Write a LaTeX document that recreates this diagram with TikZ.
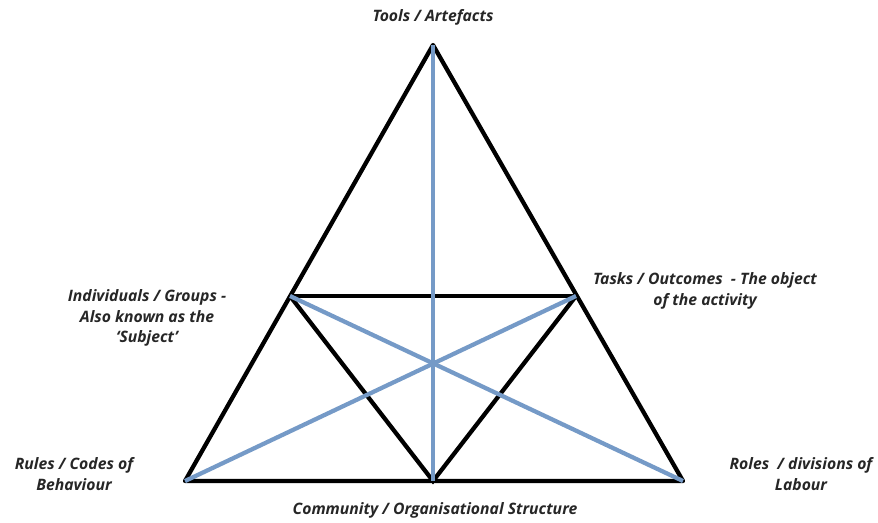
\documentclass[tikz,border=0pt]{standalone}
\usepackage{fontspec}
\setmainfont{Open Sans}
\definecolor{lienbleu}{RGB}{117,154,199}
\tikzset{
    trait/.style={line width=3.2pt, black},
    lien/.style={line width=3.2pt, lienbleu},
    etiquette/.style={font=\bfseries\itshape\fontsize{11.8}{15.5}\selectfont, align=center, inner sep=0pt, text=black!85}
}
\begin{document}
\begin{tikzpicture}[x=0.75pt,y=-0.75pt]

\useasboundingbox (0,0) rectangle (878,522);

% Sommets
\coordinate (apex) at (433,45);
\coordinate (bl) at (185,481);
\coordinate (br) at (683,481);
\coordinate (ml) at (290,296);
\coordinate (mr) at (576,296);
\coordinate (mb) at (433,481);

% Triangle
\draw[trait, line join=round] (apex) -- (bl) -- (br) -- cycle;
\draw[trait] (ml) -- (mr);
\draw[trait] (ml) -- (mb) -- (mr);

% Liens
\draw[lien] (apex) -- (mb);
\draw[lien] (ml) -- (br);
\draw[lien] (mr) -- (bl);

% Etiquettes
\node[etiquette] (tools) at (433,17)
{Tools / Artefacts};

\node[etiquette] (individuals) at (147,318)
{Individuals / Groups -\\Also known as the\\‘Subject’};

\node[etiquette] (tasks) at (705,291)
{Tasks / Outcomes~ - The object\\of the activity};

\node[etiquette] (rules) at (74,474)
{Rules / Codes of\\Behaviour};

\node[etiquette] (community) at (435,510)
{Community / Organisational Structure};

\node[etiquette] (roles) at (801,474)
{Roles~ / divisions of\\Labour};

\end{tikzpicture}
\end{document}
